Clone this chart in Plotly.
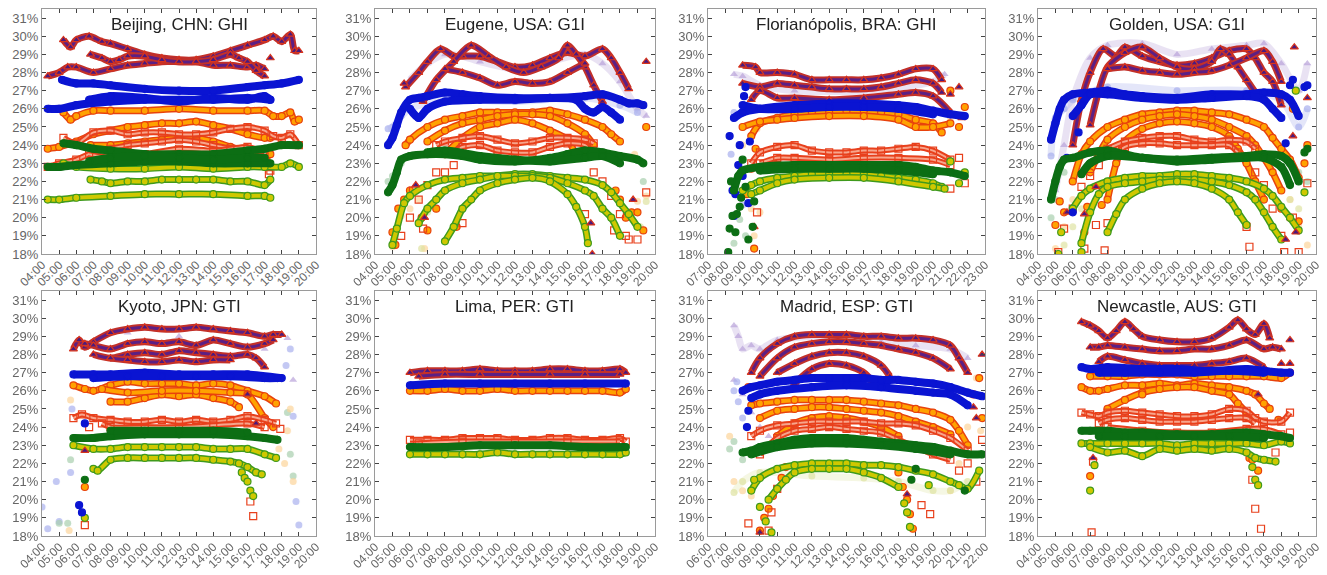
import plotly.graph_objects as go

DAY = "2000-01-01 "

TITLES = ["Beijing, CHN: GHI", "Eugene, USA: G1I", "Florianópolis, BRA: GHI", "Golden, USA: G1I",
          "Kyoto, JPN: GTI", "Lima, PER: GTI", "Madrid, ESP: GTI", "Newcastle, AUS: GTI"]
X_START = ["04:00", "04:00", "07:00", "04:00", "04:00", "04:00", "06:00", "04:00"]
X_END = ["20:00", "20:00", "23:00", "20:00", "20:00", "20:00", "22:00", "20:00"]
Y_TICKS = list(range(18, 32))

# each curve: "HH:MM value, HH:MM value, ..."  (values in %); a leading "*" = loose points only
BEI_TRI = [
    "05:15 29.8, 05:40 29.4, 06:00 29.8, 06:45 30.0, 07:30 29.7, 08:00 29.6, 09:00 29.3, 10:00 29.0, 11:00 28.8, 12:00 28.7, 13:00 28.7, 14:00 28.9, 15:00 29.2, 16:00 29.5, 17:00 29.8, 17:30 30.0, 18:00 29.7, 18:30 30.1, 18:45 29.2, 19:00 29.2",
    "04:20 27.8, 05:00 28.0, 05:30 28.3, 06:00 28.3, 07:00 28.0, 08:00 28.2, 09:00 28.4, 10:00 28.5, 11:00 28.6, 12:00 28.6, 13:00 28.6, 14:00 28.4, 15:00 28.4, 16:00 28.3, 16:30 28.4, 17:00 28.2",
    "06:50 29.0, 07:30 28.8, 08:00 28.6, 08:30 28.7, 09:00 28.9, 10:00 28.9, 11:00 28.7, 12:00 28.6, 13:00 28.6, 14:00 28.7, 15:00 29.0, 15:30 28.8, 16:00 28.6, 16:30 28.1, 17:00 27.8",
    "*17:20 28.8",
]
BEI_BLU = [
    "05:10 27.6, 06:00 27.4, 07:00 27.4, 08:00 27.3, 10:00 27.1, 12:00 27.0, 14:00 27.0, 16:00 27.2, 17:00 27.3, 18:00 27.4, 19:00 27.6",
    "04:20 26.0, 05:00 26.0, 06:00 26.2, 08:00 26.4, 10:00 26.5, 12:00 26.5, 14:00 26.5, 16:00 26.6, 17:20 26.5",
    "06:45 26.5, 08:00 26.7, 10:00 26.6, 12:00 26.4, 14:00 26.6, 16:00 26.5, 17:00 26.7, 17:20 26.5",
]
BEI_ORA = [
    "05:15 25.8, 05:40 25.4, 06:00 25.6, 07:00 25.9, 08:00 25.9, 10:00 25.9, 12:00 26.0, 14:00 25.9, 16:00 25.9, 17:00 25.9, 17:30 25.6, 18:00 25.6, 18:30 25.8, 18:45 25.3, 19:00 25.4",
    "04:20 23.8, 05:00 23.9, 06:00 24.2, 07:00 24.6, 08:00 24.8, 09:00 25.0, 10:00 25.1, 11:00 25.2, 12:00 25.2, 13:00 25.3, 14:00 25.1, 15:00 24.9, 16:00 24.6, 17:00 24.4, 17:20 24.4",
    "06:50 24.0, 08:00 24.0, 09:00 24.1, 10:00 24.2, 11:00 24.3, 12:00 24.4, 13:00 24.4, 14:00 24.2, 15:00 23.9, 16:00 23.6, 17:00 23.3, 17:20 23.5",
]
BEI_RED = [
    "05:15 24.4, 06:00 24.1, 07:00 24.7, 08:00 24.8, 09:00 24.6, 10:00 24.7, 11:00 24.7, 12:00 24.6, 13:00 24.6, 14:00 24.7, 15:00 24.9, 16:00 25.0, 17:00 24.8, 17:30 24.5, 18:00 24.4, 18:30 24.6, 19:00 24.0",
    "04:20 22.8, 05:00 23.0, 06:00 23.2, 07:00 23.6, 08:00 23.8, 09:00 24.0, 10:00 24.1, 11:00 24.2, 12:00 24.3, 13:00 24.2, 14:00 24.0, 15:00 23.8, 16:00 23.5, 17:00 23.2",
    "06:45 23.5, 08:00 23.3, 10:00 23.5, 12:00 23.8, 14:00 23.7, 15:00 23.8, 16:00 23.9, 17:00 23.6",
    "*17:15 22.4, 17:20 22.6",
]
BEI_GRN = [
    "05:15 24.1, 06:00 24.0, 07:00 23.8, 08:00 23.7, 10:00 23.5, 12:00 23.5, 14:00 23.5, 16:00 23.7, 17:00 23.8, 18:00 24.0, 19:00 24.0",
    "04:20 22.8, 05:00 22.8, 06:00 22.9, 08:00 23.0, 10:00 23.1, 12:00 23.1, 14:00 23.0, 16:00 23.0, 17:20 23.0",
    "06:45 23.1, 08:00 23.3, 10:00 23.4, 12:00 23.3, 14:00 23.2, 16:00 23.3, 17:00 23.3",
]
BEI_YEL = [
    "05:15 23.0, 06:00 22.8, 08:00 22.7, 10:00 22.7, 12:00 22.8, 14:00 22.7, 16:00 22.8, 17:00 22.8, 18:00 22.8, 18:30 23.0, 19:00 22.8",
    "06:50 22.1, 07:30 22.0, 08:00 21.9, 09:00 22.0, 10:00 22.0, 11:00 22.1, 12:00 22.1, 13:00 22.1, 14:00 22.1, 15:00 22.0, 16:00 22.0, 17:00 21.8, 17:20 22.1",
    "04:20 21.0, 05:00 21.0, 06:00 21.1, 08:00 21.2, 10:00 21.3, 12:00 21.3, 14:00 21.3, 16:00 21.2, 17:00 21.2, 17:20 21.1",
]
BEI_FAINT = []

EUG_TRI = [
    "05:45 27.2, 06:30 28.0, 07:00 28.6, 07:45 29.3, 08:30 28.9, 09:00 28.9, 10:00 28.9, 11:00 28.6, 12:00 28.3, 13:00 28.4, 14:00 28.8, 15:00 29.1, 16:00 28.9, 17:00 29.3, 17:30 28.8, 18:00 28.0, 18:30 27.1",
    "06:45 26.4, 07:30 27.6, 08:30 28.6, 09:30 29.5, 10:30 28.9, 11:30 28.3, 12:30 28.0, 13:30 28.3, 14:30 28.8, 15:00 29.5, 15:30 29.0, 16:00 28.3, 16:30 27.3, 17:00 26.4",
    "08:00 28.2, 09:00 28.0, 10:00 27.7, 11:00 27.3, 12:00 27.5, 13:00 27.4, 14:00 27.5, 15:00 28.0, 16:00 28.5",
    "*05:40 27.4, 06:20 21.8, 06:50 20.0, 16:20 19.7, 16:25 18.0, 18:45 21.0, 19:30 28.6",
]
EUG_BLU = [
    "04:45 24.0, 05:00 24.4, 05:15 25.1, 05:30 25.8, 06:00 26.5, 06:30 26.6, 07:00 26.7, 08:00 26.9, 09:00 26.8, 10:00 26.7, 12:00 26.6, 14:00 26.6, 16:00 26.7, 17:00 26.8, 18:00 26.5, 18:30 26.3, 19:00 26.3, 19:20 26.2",
    "06:00 26.0, 06:30 25.5, 07:00 26.0, 08:00 26.4, 10:00 26.5, 12:00 26.5, 14:00 26.6, 15:30 26.5, 16:00 26.0, 16:30 25.8, 17:00 26.1, 17:30 25.8, 18:00 25.4",
]
EUG_ORA = [
    "05:45 24.0, 06:00 24.3, 07:00 25.0, 08:00 25.4, 09:00 25.6, 10:00 25.8, 11:00 25.8, 12:00 25.8, 13:00 25.8, 14:00 25.9, 15:00 25.7, 16:00 25.4, 17:00 25.0, 17:30 24.6, 18:00 24.2",
    "07:00 24.2, 08:00 24.8, 09:00 25.2, 10:00 25.4, 11:00 25.6, 12:00 25.7, 13:00 25.7, 14:00 25.6, 15:00 25.2, 16:00 24.6, 16:30 24.0",
    "08:00 23.5, 09:00 24.4, 10:00 25.0, 11:00 25.2, 12:00 25.4, 13:00 25.2, 14:00 24.8, 15:00 24.3, 15:30 23.4",
    "*05:00 19.2, 05:10 18.5, 05:20 20.5, 05:40 21.0, 06:00 21.5, 06:40 20.0, 07:00 19.3, 07:30 20.5, 08:40 19.5",
    "*17:45 21.5, 18:00 21.0, 18:20 20.0, 18:40 20.3, 19:00 20.3, 19:20 19.3, 19:30 25.0",
]
EUG_RED = [
    "07:30 24.0, 08:00 24.2, 09:00 24.4, 10:00 24.5, 11:00 24.3, 12:00 24.1, 13:00 24.2, 14:00 24.4, 15:00 24.4, 16:00 24.3, 16:30 24.1",
    "08:30 23.6, 09:00 23.9, 10:00 24.0, 11:00 23.7, 12:00 23.6, 13:00 23.6, 14:00 23.9, 15:00 24.1, 16:00 24.0, 16:30 23.5",
    "*05:30 19.0, 06:00 20.0, 06:10 21.5, 06:30 21.0, 06:45 19.4, 07:00 21.8, 07:30 22.5, 08:00 22.5, 08:30 22.9, 09:00 19.7",
    "*16:00 20.2, 16:30 22.5, 17:00 22.0, 17:30 21.2, 17:40 19.3, 18:00 20.2, 18:20 19.0, 18:30 18.8, 19:00 18.8, 19:30 21.4",
]
EUG_GRN = [
    "04:45 21.4, 05:00 21.8, 05:15 22.5, 05:30 23.2, 06:00 23.4, 07:00 23.5, 08:00 23.5, 09:00 23.4, 10:00 23.2, 12:00 23.1, 14:00 23.3, 15:00 23.5, 16:00 23.7, 17:00 23.6, 18:00 23.4, 19:00 23.2, 19:20 23.0",
    "07:00 23.6, 08:00 23.7, 10:00 23.4, 12:00 23.2, 14:00 23.1, 16:00 23.3, 17:00 23.4, 18:00 23.0",
]
EUG_YEL = [
    "05:00 18.5, 05:15 19.4, 05:40 20.8, 06:00 21.2, 07:00 21.8, 08:00 22.1, 09:00 22.2, 10:00 22.3, 11:00 22.3, 12:00 22.4, 13:00 22.4, 14:00 22.3, 15:00 22.2, 16:00 22.1, 17:00 21.8, 17:30 21.4, 18:00 20.8, 18:30 20.2, 19:00 19.5",
    "06:30 19.7, 07:00 20.5, 07:30 21.0, 08:00 21.5, 09:00 21.9, 10:00 22.1, 11:00 22.3, 12:00 22.3, 13:00 22.3, 14:00 22.2, 15:00 21.9, 16:00 21.5, 16:30 21.2, 17:00 20.5, 17:30 20.0, 18:00 19.0",
    "08:00 18.7, 08:30 19.5, 09:00 20.5, 09:30 21.0, 10:00 21.5, 11:00 21.9, 12:00 22.1, 13:00 22.2, 14:00 22.0, 15:00 21.3, 15:30 20.6, 16:00 19.5, 16:10 18.6",
]
EUG_FAINT = [
    ("tri", "06:00 27.6, 07:00 28.5, 08:00 29.0, 09:00 28.9, 10:00 28.6, 12:00 28.2, 14:00 28.6, 16:00 29.0, 17:00 28.5, 18:00 27.5, 19:00 26.0, 19:30 25.6"),
    ("blu", "04:45 24.9, 05:00 25.0, 05:30 25.6, 06:00 26.0, 08:00 26.5, 12:00 26.4, 16:00 26.6, 18:00 26.2, 19:00 25.8"),
    ("ora", "*05:00 18.4, 05:30 20.1, 06:00 20.5, 06:30 21.0, 06:50 18.3, 19:00 20.9, 19:30 21.2, 18:50 23.5"),
    ("grn", "*04:45 22.0, 05:00 22.3, 05:30 23.0, 19:20 22.0"),
    ("yel", "*06:40 18.3, 07:00 20.3, 19:10 19.5, 19:30 20.9"),
]

FLO_TRI = [
    "09:00 28.4, 09:45 28.3, 10:00 28.0, 11:00 28.0, 12:00 27.9, 13:00 27.6, 14:00 27.6, 15:00 27.6, 16:00 27.6, 17:00 27.7, 18:00 27.9, 19:00 28.2, 20:00 28.2, 20:30 27.6",
    "09:00 27.4, 10:00 27.2, 11:00 27.4, 12:00 27.3, 13:00 27.2, 14:00 27.1, 15:00 27.1, 16:00 27.1, 17:00 27.2, 18:00 27.4, 19:00 27.6, 20:00 27.4, 20:30 26.9",
    "09:30 26.5, 10:00 27.0, 11:00 26.6, 12:00 26.6, 14:00 26.5, 16:00 26.6, 18:00 26.8, 19:00 26.9, 20:00 26.7, 21:00 25.8",
    "*21:00 26.8, 21:30 27.2, 21:40 25.5, 09:40 19.5",
]
FLO_BLU = [
    "08:30 25.5, 09:00 25.8, 10:00 26.0, 12:00 26.2, 14:00 26.3, 16:00 26.3, 18:00 26.2, 19:00 26.1, 20:00 25.9, 21:00 25.7, 21:50 25.6",
    "09:00 26.2, 10:00 26.0, 12:00 26.0, 14:00 26.1, 16:00 26.1, 18:00 26.0, 20:00 25.7",
    "*08:15 24.5, 08:25 21.5, 08:30 20.1, 08:35 21.3, 08:45 22.9, 08:50 24.0, 09:00 22.3, 09:05 26.7, 09:10 27.2, 09:20 20.8, 09:25 24.2",
]
FLO_ORA = [
    "09:30 24.5, 10:00 25.2, 11:00 25.5, 12:00 25.7, 13:00 25.8, 14:00 25.8, 15:00 25.9, 16:00 25.9, 17:00 25.8, 18:00 25.7, 19:00 25.4, 20:00 25.2, 20:30 24.7",
    "09:00 25.0, 10:00 25.3, 11:00 25.4, 12:00 25.5, 14:00 25.6, 16:00 25.6, 18:00 25.4, 19:00 25.0, 20:00 25.0, 21:00 25.2",
    "*09:15 21.3, 09:30 22.7, 09:45 23.8, 09:40 18.3, 21:30 25.0, 21:50 26.1, 21:00 27.0",
]
FLO_RED = [
    "09:30 23.0, 10:00 23.6, 11:00 23.9, 12:00 24.0, 13:00 23.7, 14:00 23.6, 15:00 23.6, 16:00 23.7, 17:00 23.7, 18:00 23.8, 19:00 23.9, 20:00 23.7, 21:00 23.2",
    "10:00 23.0, 11:00 23.3, 12:00 23.3, 14:00 23.2, 16:00 23.3, 18:00 23.3, 20:00 23.2, 21:00 22.9",
    "*21:00 21.6, 21:30 23.3, 21:50 21.9, 09:50 20.3",
]
FLO_GRN = [
    "08:30 21.5, 08:45 22.3, 09:00 22.6, 10:00 22.8, 12:00 22.9, 14:00 22.9, 16:00 22.9, 18:00 22.9, 19:00 22.8, 20:00 22.6, 21:00 22.5, 21:50 22.3",
    "10:00 22.6, 12:00 22.7, 14:00 22.7, 16:00 22.7, 18:00 22.6, 20:00 22.4",
    "*08:10 18.1, 08:15 19.4, 08:20 22.0, 08:25 20.1, 08:35 19.2, 08:40 20.2, 08:50 20.6, 08:55 21.1, 09:00 23.2, 09:10 21.7, 09:20 18.8, 09:35 19.5, 09:40 20.9",
]
FLO_YEL = [
    "09:00 21.5, 09:30 21.8, 10:00 22.0, 11:00 22.2, 12:00 22.3, 13:00 22.4, 14:00 22.4, 15:00 22.4, 16:00 22.4, 17:00 22.3, 18:00 22.2, 19:00 22.1, 20:00 21.9, 20:30 21.7",
    "09:30 21.3, 10:00 21.5, 11:00 21.9, 12:00 22.1, 14:00 22.2, 16:00 22.2, 18:00 22.0, 20:00 21.7, 20:40 21.6",
    "*21:00 23.1, 21:30 21.9, 21:50 22.5",
]
FLO_FAINT = [
    ("tri", "08:30 27.9, 09:00 27.8, 10:00 27.3, 12:00 27.0, 16:00 27.0, 20:00 27.5, 20:40 27.9"),
    ("blu", "*08:20 23.5, 08:40 25.6, 09:00 20.7, 09:20 18.8, 08:30 25.8"),
    ("ora", "*09:00 24.0, 09:30 20.5, 10:00 20.3, 09:40 19.0, 09:50 24.9, 21:00 25.5"),
    ("grn", "*08:30 18.6, 08:50 19.9, 09:10 19.0"),
]

GOL_TRI = [
    "06:00 24.0, 06:30 26.5, 07:00 28.0, 07:45 29.3, 08:30 28.9, 09:00 29.4, 10:00 28.9, 11:00 28.6, 12:00 28.4, 13:00 28.5, 14:00 28.8, 15:00 29.2, 16:00 29.3, 16:30 28.8, 17:00 28.0, 17:30 27.5, 18:00 26.2",
    "07:00 25.1, 07:30 27.0, 08:00 28.3, 09:00 29.1, 10:00 29.4, 11:00 28.8, 12:00 28.3, 13:00 28.2, 14:00 28.6, 14:30 29.3, 15:00 29.0, 15:30 28.3, 16:00 27.6, 16:30 26.9",
    "08:00 28.2, 09:00 28.3, 10:00 28.1, 11:00 28.0, 12:00 27.9, 13:00 28.0, 14:00 28.1, 15:00 28.4, 16:00 28.8, 17:00 29.2, 17:30 28.6, 18:00 27.5",
    "*05:40 20.3, 06:40 20.2, 07:20 21.7, 18:45 29.4, 18:40 24.5, 18:50 19.2, 19:30 26.6, 18:15 18.8",
]
GOL_BLU = [
    "04:45 24.3, 05:00 25.2, 05:15 26.0, 05:30 26.5, 06:00 26.8, 07:00 26.9, 08:00 27.0, 09:00 26.8, 10:00 26.7, 12:00 26.6, 14:00 26.8, 16:00 26.8, 17:00 26.9, 18:00 26.8, 18:30 26.5, 19:00 25.6",
    "06:00 25.6, 06:30 26.2, 07:00 26.8, 08:00 26.8, 10:00 26.6, 12:00 26.5, 14:00 26.6, 16:00 26.7, 17:00 26.5, 17:30 26.0, 18:00 25.5",
    "*06:00 20.3, 06:20 24.7, 05:40 23.3, 18:40 27.6, 18:30 27.3, 18:15 24.1, 19:20 27.2, 19:30 27.3",
]
GOL_ORA = [
    "06:00 22.0, 06:30 23.5, 07:00 24.2, 08:00 25.0, 09:00 25.4, 10:00 25.7, 11:00 25.8, 12:00 25.9, 13:00 25.9, 14:00 25.8, 15:00 25.7, 16:00 25.4, 17:00 25.0, 17:30 24.4, 18:00 23.8, 18:30 23.2, 19:00 22.2",
    "07:00 22.5, 07:30 23.5, 08:00 24.3, 09:00 25.0, 10:00 25.4, 11:00 25.6, 12:00 25.7, 13:00 25.6, 14:00 25.4, 15:00 25.0, 16:00 24.5, 16:30 24.0, 17:00 23.3, 17:30 22.5, 18:00 21.5",
    "08:00 21.0, 08:30 23.0, 09:00 24.2, 10:00 24.9, 11:00 25.2, 12:00 25.3, 13:00 25.2, 14:00 25.0, 15:00 24.5, 15:30 23.8, 16:00 23.0, 16:30 22.0, 17:00 21.0",
    "*05:00 19.6, 05:15 20.9, 05:30 20.3, 06:40 19.2, 06:50 20.6, 07:40 20.7, 18:00 20.5, 18:30 20.0, 19:00 19.8, 19:30 24.0, 19:20 23.0, 18:40 26.0",
]
GOL_RED = [
    "08:00 23.8, 09:00 24.2, 10:00 24.4, 11:00 24.5, 12:00 24.5, 13:00 24.3, 14:00 24.2, 15:00 24.3, 16:00 24.2, 16:30 23.8",
    "08:30 23.5, 09:00 23.9, 10:00 24.1, 11:00 24.1, 12:00 24.0, 13:00 24.0, 14:00 24.0, 15:00 24.0, 15:30 23.6",
    "*05:30 19.4, 05:10 18.1, 06:00 20.5, 06:30 21.7, 06:40 18.3, 07:00 22.3, 07:30 22.9, 07:20 19.6, 07:50 18.2, 08:00 19.7",
    "*16:00 19.5, 16:10 18.4, 16:30 22.5, 17:00 21.8, 17:30 20.5, 18:00 19.0, 18:10 18.1, 19:00 18.1, 19:30 21.9, 18:40 20.0",
]
GOL_GRN = [
    "04:45 21.0, 05:00 22.0, 05:15 22.8, 05:30 23.2, 06:00 23.3, 07:00 23.6, 08:00 23.7, 09:00 23.5, 10:00 23.3, 12:00 23.2, 14:00 23.3, 16:00 23.4, 17:00 23.5, 18:00 23.4, 18:30 23.0, 19:00 22.0",
    "06:30 22.4, 07:00 23.0, 08:00 23.4, 10:00 23.3, 12:00 23.1, 14:00 23.2, 16:00 23.3, 17:00 23.3, 18:00 22.8, 18:30 21.8",
    "*19:20 23.6, 19:30 23.8",
]
GOL_YEL = [
    "06:00 20.5, 06:30 21.2, 07:00 21.6, 08:00 22.0, 09:00 22.2, 10:00 22.3, 11:00 22.3, 12:00 22.4, 13:00 22.4, 14:00 22.3, 15:00 22.2, 16:00 22.0, 17:00 21.6, 17:30 21.2, 18:00 20.6, 18:30 20.0, 19:00 19.3",
    "06:30 18.6, 07:00 20.3, 07:30 21.3, 08:00 21.7, 09:00 21.9, 10:00 22.0, 11:00 22.1, 12:00 22.1, 13:00 22.1, 14:00 22.0, 15:00 21.8, 16:00 21.4, 16:30 21.0, 17:00 20.3, 17:30 19.5, 18:00 18.8",
    "08:00 19.2, 08:30 20.2, 09:00 21.0, 10:00 21.6, 11:00 21.9, 12:00 22.0, 13:00 21.9, 14:00 21.6, 15:00 21.0, 15:30 20.3, 16:00 19.6",
    "*05:10 18.0, 05:20 19.2, 06:30 18.1, 18:50 27.0, 19:20 21.4",
]
GOL_FAINT = [
    ("tri", "05:00 21.5, 05:30 24.0, 06:00 26.5, 07:00 28.8, 08:00 29.5, 10:00 29.6, 12:00 29.0, 14:00 29.3, 16:00 29.5, 17:00 29.6, 18:00 28.5, 19:00 27.0, 19:30 28.5"),
    ("blu", "04:45 23.4, 05:00 25.5, 05:30 26.0, 06:00 26.5, 08:00 27.2, 12:00 27.0, 16:00 27.0, 18:00 26.5, 19:00 25.0, 19:30 26.0"),
    ("ora", "*05:00 18.3, 05:30 19.5, 06:00 21.0, 18:30 21.0, 19:00 19.5, 19:30 18.5"),
    ("grn", "*04:45 20.0, 05:00 21.0, 05:30 22.5, 19:00 22.5, 19:30 22.0"),
    ("yel", "*05:30 18.5, 06:00 19.5, 06:30 20.5, 18:00 21.5, 18:30 21.0, 19:00 20.5"),
]

KYO_TRI = [
    "05:50 28.3, 06:10 28.8, 06:30 28.4, 07:00 28.7, 08:00 29.2, 09:00 29.4, 10:00 29.5, 11:00 29.4, 12:00 29.4, 13:00 29.5, 14:00 29.4, 15:00 29.3, 16:00 29.2, 17:00 29.0, 17:30 29.1, 18:00 29.1",
    "06:30 28.6, 07:00 28.5, 08:00 28.3, 09:00 28.6, 10:00 28.7, 11:00 28.6, 12:00 28.7, 13:00 28.5, 14:00 28.8, 15:00 28.6, 16:00 28.4, 17:00 28.6, 17:30 28.8",
    "07:00 28.0, 08:00 27.8, 09:00 28.0, 10:00 28.1, 11:00 28.0, 12:00 28.2, 13:00 28.1, 14:00 28.0, 15:00 27.9, 16:00 28.0, 16:30 27.8, 17:00 27.3",
    "08:00 27.8, 09:00 27.7, 10:00 27.6, 11:00 27.6, 12:00 27.7, 13:00 27.6, 14:00 27.7, 15:00 27.7",
    "*16:00 25.8, 16:30 24.2, 06:30 22.7",
]
KYO_BLU = [
    "05:50 26.9, 07:00 26.9, 08:00 26.9, 10:00 27.0, 12:00 26.9, 14:00 26.9, 16:00 26.9, 18:00 26.7",
    "07:00 26.7, 09:00 26.8, 11:00 26.8, 13:00 26.8, 15:00 26.8, 17:00 26.7, 17:45 26.7",
    "*06:10 19.7, 06:20 19.3, 06:30 24.2",
]
KYO_ORA = [
    "05:50 26.3, 06:30 26.1, 07:00 26.0, 08:00 26.3, 09:00 26.5, 10:00 26.4, 11:00 26.4, 12:00 26.4, 13:00 26.3, 14:00 26.4, 15:00 26.3, 16:00 26.0, 17:00 25.7, 17:40 25.3",
    "08:00 25.4, 09:00 25.4, 10:00 25.6, 11:00 25.8, 12:00 25.7, 13:00 25.8, 14:00 25.6, 15:00 25.4, 15:30 25.1",
    "07:30 26.1, 09:00 25.9, 11:00 26.0, 13:00 26.0, 15:00 25.9, 16:00 25.8, 17:00 24.5, 17:30 24.0",
    "*06:30 20.7",
]
KYO_RED = [
    "05:50 24.5, 06:20 24.7, 07:00 24.5, 08:00 24.4, 09:00 24.3, 10:00 24.3, 11:00 24.4, 12:00 24.3, 13:00 24.4, 14:00 24.3, 15:00 24.4, 16:00 24.6, 17:00 24.4, 17:40 24.2",
    "07:30 24.2, 08:00 24.0, 10:00 24.0, 12:00 24.0, 14:00 24.1, 16:00 24.2, 17:00 24.0",
    "*16:10 19.9, 16:20 19.1, 06:30 18.6, 06:45 24.0, 17:55 23.9",
]
KYO_GRN = [
    "05:50 23.4, 07:00 23.4, 08:00 23.5, 10:00 23.6, 12:00 23.6, 14:00 23.6, 16:00 23.5, 17:00 23.4, 17:45 23.3",
    "08:00 23.8, 10:00 23.8, 12:00 23.8, 14:00 23.8, 16:00 23.7",
    "*06:30 21.1",
]
KYO_YEL = [
    "05:50 23.0, 07:00 22.8, 08:00 22.8, 09:00 22.9, 10:00 22.9, 11:00 22.9, 12:00 22.9, 13:00 22.9, 14:00 22.8, 15:00 22.8, 16:00 22.8, 17:00 22.5, 17:40 22.3",
    "07:00 21.7, 07:15 21.6, 08:00 22.2, 09:00 22.3, 10:00 22.3, 11:00 22.3, 12:00 22.3, 13:00 22.3, 14:00 22.2, 15:00 22.1, 15:30 22.0, 16:00 21.8, 16:30 21.5, 16:50 21.4",
    "*15:40 21.5, 15:50 21.2, 16:00 21.0, 16:10 20.5, 16:20 20.2, 06:30 19.0",
]
KYO_FAINT = [
    ("blu", "*04:00 19.6, 04:20 18.4, 04:50 21.0, 05:00 18.8, 05:40 21.5, 05:45 25.0, 18:15 27.4, 18:30 28.3, 18:40 24.6, 18:50 19.9, 19:00 18.6"),
    ("grn", "*05:00 18.7, 05:30 18.7, 05:40 22.2, 18:40 21.3, 18:30 22.5, 18:20 24.8"),
    ("ora", "*05:40 25.5, 05:35 18.3, 18:30 25.0, 18:40 21.0, 18:20 23.8, 17:50 22.8, 18:10 22.0"),
    ("tri", "*18:20 28.9, 18:40 26.6, 17:00 28.3, 09:00 29.2, 12:00 29.0, 16:00 28.5"),
]

LIM_TRI = [
    "06:00 27.0, 07:00 27.1, 08:00 27.1, 09:00 27.1, 10:00 27.2, 11:00 27.1, 12:00 27.1, 13:00 27.1, 14:00 27.2, 15:00 27.2, 16:00 27.1, 17:00 27.1, 18:00 27.2, 18:20 27.0",
    "06:30 26.8, 08:00 26.9, 10:00 26.9, 12:00 26.9, 14:00 26.9, 16:00 26.9, 18:00 26.9",
]
LIM_BLU = [
    "06:00 26.3, 08:00 26.4, 10:00 26.4, 12:00 26.4, 14:00 26.4, 16:00 26.4, 18:20 26.4",
]
LIM_ORA = [
    "06:00 26.0, 07:00 26.0, 08:00 26.1, 09:00 26.0, 10:00 26.0, 11:00 26.1, 12:00 26.0, 13:00 26.0, 14:00 26.0, 15:00 26.0, 16:00 26.0, 17:00 26.0, 18:00 25.9, 18:20 26.1",
]
LIM_RED = [
    "06:00 23.3, 07:00 23.3, 08:00 23.3, 09:00 23.4, 10:00 23.4, 11:00 23.4, 12:00 23.3, 13:00 23.3, 14:00 23.4, 15:00 23.4, 16:00 23.3, 17:00 23.3, 18:00 23.4, 18:20 23.2",
    "06:30 23.1, 09:00 23.2, 12:00 23.2, 15:00 23.2, 18:00 23.2",
]
LIM_GRN = [
    "06:00 22.9, 08:00 22.9, 10:00 23.0, 12:00 23.0, 14:00 23.0, 16:00 22.9, 18:20 22.9",
]
LIM_YEL = [
    "06:00 22.5, 07:00 22.5, 08:00 22.5, 09:00 22.5, 10:00 22.5, 11:00 22.6, 12:00 22.5, 13:00 22.5, 14:00 22.5, 15:00 22.5, 16:00 22.5, 17:00 22.5, 18:00 22.5, 18:20 22.6",
]
LIM_FAINT = []

MAD_TRI = [
    "08:30 27.0, 09:00 27.8, 10:00 28.6, 11:00 29.0, 12:00 29.1, 13:00 29.1, 14:00 29.1, 15:00 29.0, 16:00 29.0, 17:00 28.9, 18:00 28.9, 19:00 28.8, 20:00 28.5, 20:30 27.8, 21:00 27.0",
    "09:00 26.8, 10:00 27.8, 11:00 28.4, 12:00 28.6, 13:00 28.7, 14:00 28.7, 15:00 28.6, 16:00 28.5, 17:00 28.3, 18:00 28.1, 19:00 27.8, 20:00 27.2",
    "10:00 27.0, 11:00 27.5, 12:00 27.9, 13:00 28.1, 14:00 28.1, 15:00 27.9, 16:00 27.4, 16:30 26.8",
    "11:00 26.4, 12:00 27.2, 13:00 27.5, 14:00 27.4, 15:00 27.0, 15:30 26.5",
    "*21:50 28.0, 21:30 24.5, 21:20 25.1, 09:00 18.2, 17:30 20.3",
]
MAD_BLU = [
    "08:00 26.0, 08:30 26.2, 09:00 26.3, 10:00 26.5, 11:00 26.6, 12:00 26.7, 13:00 26.7, 14:00 26.7, 15:00 26.7, 16:00 26.6, 17:00 26.6, 18:00 26.5, 19:00 26.4, 20:00 26.2, 21:00 25.9, 21:50 25.7",
    "08:30 25.6, 09:00 25.8, 10:00 26.0, 12:00 26.2, 14:00 26.3, 16:00 26.2, 18:00 26.0, 19:00 25.9, 20:00 25.8, 21:00 25.2",
    "*08:20 24.9, 08:15 24.0",
]
MAD_ORA = [
    "08:30 25.2, 09:00 25.3, 10:00 25.4, 11:00 25.5, 12:00 25.5, 13:00 25.5, 14:00 25.5, 15:00 25.4, 16:00 25.3, 17:00 25.2, 18:00 25.0, 19:00 24.8, 20:00 24.4, 20:30 23.8, 21:00 23.0",
    "09:00 24.5, 10:00 24.9, 11:00 25.0, 12:00 25.1, 13:00 25.1, 14:00 25.0, 15:00 24.9, 16:00 24.8, 17:00 24.6, 18:00 24.3, 19:00 24.0, 20:00 23.6",
    "10:00 23.5, 11:00 24.2, 12:00 24.5, 13:00 24.6, 14:00 24.5, 15:00 24.3, 16:00 24.0, 17:00 23.5",
    "*09:00 18.3, 09:15 19.0, 09:30 19.5, 09:45 20.2, 10:00 20.6, 10:15 21.2, 10:30 21.8, 17:00 21.5, 17:15 20.7, 17:30 20.0, 17:40 19.2, 17:50 18.4, 21:40 26.7, 21:50 24.5, 21:20 25.8, 08:20 26.2",
]
MAD_RED = [
    "08:30 23.5, 09:00 23.8, 10:00 24.1, 11:00 24.2, 12:00 24.3, 13:00 24.3, 14:00 24.3, 15:00 24.3, 16:00 24.2, 17:00 24.2, 18:00 24.1, 19:00 23.8, 20:00 23.4, 21:00 22.7",
    "09:00 22.5, 10:00 23.4, 11:00 23.8, 12:00 23.9, 13:00 24.0, 14:00 23.9, 15:00 23.8, 16:00 23.7, 17:00 23.3, 18:00 22.9, 19:00 22.5, 20:00 22.2",
    "*08:20 18.7, 09:30 18.3, 09:40 19.3, 10:00 20.6, 18:20 19.7, 18:50 19.2, 21:30 21.0, 21:50 23.3, 20:30 21.6, 21:00 22.0",
]
MAD_GRN = [
    "08:00 22.6, 08:30 22.7, 09:00 22.9, 10:00 23.1, 11:00 23.3, 12:00 23.4, 13:00 23.4, 14:00 23.4, 15:00 23.3, 16:00 23.2, 17:00 23.1, 18:00 23.0, 19:00 22.9, 20:00 22.7, 21:00 22.5, 21:50 22.5",
    "08:30 22.5, 10:00 22.9, 12:00 23.1, 14:00 23.1, 16:00 23.0, 18:00 22.8, 20:00 22.5",
    "*17:45 21.1, 18:00 21.7, 20:50 20.5",
]
MAD_YEL = [
    "08:30 20.5, 09:00 21.2, 10:00 21.7, 11:00 21.9, 12:00 22.0, 13:00 22.0, 14:00 22.0, 15:00 21.9, 16:00 21.9, 17:00 21.8, 18:00 21.6, 19:00 21.4, 20:00 21.0, 20:30 20.8, 21:00 20.6, 21:40 21.6",
    "09:30 20.0, 10:00 20.6, 10:30 21.1, 11:00 21.5, 12:00 21.7, 13:00 21.7, 14:00 21.7, 15:00 21.5, 16:00 21.2, 17:00 20.7",
    "*17:20 19.8, 17:30 19.3, 17:40 18.5, 09:00 19.6, 09:20 18.8, 09:40 18.2, 08:40 21.1, 18:45 20.8",
]
MAD_FAINT = [
    ("tri", "07:30 29.6, 07:45 29.0, 08:00 28.3, 08:30 28.5, 09:00 28.3, 10:00 28.8, 12:00 29.0, 14:00 29.0, 16:00 28.7, 18:00 28.5, 20:00 28.3, 21:00 27.8"),
    ("tri", "*07:30 26.6, 08:00 25.8, 08:30 24.8, 09:00 24.0, 09:30 23.5"),
    ("blu", "*07:30 26.0, 07:45 25.4, 08:00 24.5, 07:40 26.5"),
    ("ora", "*07:15 23.5, 07:30 21.0, 08:00 20.5, 08:30 20.2, 20:00 20.5, 20:30 22.0, 21:00 24.0, 21:30 26.7, 21:45 23.8"),
    ("grn", "*07:15 22.8, 07:30 23.2, 08:00 22.2"),
    ("yel", "07:30 20.4, 08:00 21.0, 09:00 21.5, 12:00 21.3, 15:00 21.2, 17:00 21.0, 19:00 20.5, 20:00 20.5, 21:00 21.0"),
]

NEW_TRI = [
    "06:30 29.8, 07:00 29.6, 07:30 29.3, 08:00 28.9, 08:30 29.3, 09:00 29.8, 09:30 29.4, 10:00 29.0, 11:00 28.8, 12:00 28.7, 13:00 28.7, 14:00 28.9, 15:00 29.5, 15:30 29.9, 16:00 29.4, 16:30 29.1, 17:00 29.7, 17:20 28.9",
    "07:00 28.4, 07:30 28.4, 08:00 28.5, 09:00 28.4, 10:00 28.3, 11:00 28.2, 12:00 28.2, 13:00 28.3, 14:00 28.3, 15:00 28.5, 16:00 28.8, 17:00 28.3, 17:30 28.4, 18:00 28.3",
    "07:30 27.6, 08:00 27.9, 09:00 27.7, 10:00 27.5, 11:00 27.4, 12:00 27.4, 13:00 27.4, 14:00 27.5, 15:00 27.6, 16:00 27.8, 17:00 27.3",
    "*07:10 22.3, 18:30 28.8, 18:00 27.5, 18:30 27.5, 16:40 25.8",
]
NEW_BLU = [
    "06:30 27.3, 07:00 27.2, 08:00 27.3, 10:00 27.2, 12:00 27.2, 14:00 27.1, 16:00 27.2, 17:00 27.1, 18:00 27.0, 18:30 27.0",
    "07:30 27.0, 09:00 27.0, 11:00 27.0, 13:00 27.0, 15:00 27.1, 17:00 27.0",
]
NEW_ORA = [
    "06:30 26.2, 07:00 26.0, 07:30 26.0, 08:00 26.1, 09:00 26.3, 10:00 26.3, 11:00 26.4, 12:00 26.3, 13:00 26.4, 14:00 26.3, 15:00 26.2, 16:00 26.0, 16:30 25.8, 17:00 25.3, 17:20 25.0",
    "07:00 26.8, 08:00 26.8, 09:00 26.8, 10:00 26.9, 11:00 26.9, 12:00 26.9, 13:00 26.8, 14:00 26.8, 15:00 26.8, 16:00 26.8, 17:00 26.8, 18:00 26.7, 18:30 27.0",
    "08:00 25.0, 09:00 25.5, 10:00 25.9, 11:00 26.1, 12:00 26.2, 13:00 26.2, 14:00 26.0, 15:00 25.8, 15:30 25.3, 16:00 24.8",
    "*07:00 21.3, 16:10 22.3, 16:20 22.2, 16:40 21.6, 10:00 25.8, 17:50 24.4",
]
NEW_RED = [
    "06:30 24.8, 07:00 24.7, 07:30 24.6, 08:00 24.8, 09:00 24.9, 10:00 24.8, 11:00 24.7, 12:00 24.6, 13:00 24.6, 14:00 24.7, 15:00 25.0, 16:00 24.9, 16:30 24.5, 17:00 24.3, 18:00 24.3, 18:30 24.8",
    "07:30 24.2, 08:00 24.4, 09:00 24.5, 10:00 24.4, 11:00 24.3, 12:00 24.3, 13:00 24.3, 14:00 24.4, 15:00 24.5, 16:00 24.5, 16:30 24.2",
    "08:00 24.0, 10:00 23.8, 12:00 23.7, 14:00 23.7, 16:00 23.9, 17:00 23.9, 18:00 23.6",
    "*07:05 18.2, 07:10 22.1, 16:30 19.5, 16:50 18.4, 18:30 23.7, 17:40 22.6, 16:20 21.1",
]
NEW_GRN = [
    "06:30 23.8, 07:00 23.8, 08:00 23.8, 09:00 23.7, 10:00 23.7, 12:00 23.6, 14:00 23.6, 16:00 23.7, 17:00 23.6, 18:00 23.5, 18:30 23.4",
    "07:30 23.5, 09:00 23.5, 11:00 23.5, 13:00 23.5, 15:00 23.5, 17:00 23.4",
]
NEW_YEL = [
    "06:30 23.1, 07:00 23.1, 08:00 23.1, 09:00 23.1, 10:00 23.1, 11:00 23.1, 12:00 23.0, 13:00 23.1, 14:00 23.1, 15:00 23.1, 16:00 23.1, 17:00 23.0, 18:00 23.2, 18:30 23.1",
    "07:00 22.9, 08:00 22.6, 09:00 22.7, 10:00 22.4, 11:00 22.8, 12:00 22.7, 13:00 22.8, 14:00 22.7, 15:00 22.8, 16:00 22.6, 16:30 22.3, 17:00 22.2, 17:40 22.1",
    "*07:00 20.5, 07:15 21.9, 16:20 21.8, 16:30 21.1, 16:40 20.8",
]
NEW_FAINT = []

PANELS = [
    (dict(ora=BEI_ORA, red=BEI_RED, yel=BEI_YEL, tri=BEI_TRI, blu=BEI_BLU, grn=BEI_GRN), BEI_FAINT),
    (dict(ora=EUG_ORA, red=EUG_RED, yel=EUG_YEL, tri=EUG_TRI, blu=EUG_BLU, grn=EUG_GRN), EUG_FAINT),
    (dict(ora=FLO_ORA, red=FLO_RED, yel=FLO_YEL, tri=FLO_TRI, blu=FLO_BLU, grn=FLO_GRN), FLO_FAINT),
    (dict(ora=GOL_ORA, red=GOL_RED, yel=GOL_YEL, tri=GOL_TRI, blu=GOL_BLU, grn=GOL_GRN), GOL_FAINT),
    (dict(ora=KYO_ORA, red=KYO_RED, yel=KYO_YEL, tri=KYO_TRI, blu=KYO_BLU, grn=KYO_GRN), KYO_FAINT),
    (dict(ora=LIM_ORA, red=LIM_RED, yel=LIM_YEL, tri=LIM_TRI, blu=LIM_BLU, grn=LIM_GRN), LIM_FAINT),
    (dict(ora=MAD_ORA, red=MAD_RED, yel=MAD_YEL, tri=MAD_TRI, blu=MAD_BLU, grn=MAD_GRN), MAD_FAINT),
    (dict(ora=NEW_ORA, red=NEW_RED, yel=NEW_YEL, tri=NEW_TRI, blu=NEW_BLU, grn=NEW_GRN), NEW_FAINT),
]

# symbol, marker fill, marker edge, band outer (colour, width), band inner (colour, width)
STYLES = {
    "tri": ("triangle-up", "#4a1a7e", "#d8341c", ("#c2302a", 7), ("#5c1f84", 3)),
    "blu": ("circle", "#0a14d2", "#0a14d2", ("#0a14d2", 8), None),
    "ora": ("circle", "#ffa200", "#e8420c", ("#e8420c", 7), ("#ffa200", 4)),
    "red": ("square-open", "#e8401c", "#e8401c", ("#e8401c", 6), ("#f7a58c", 2)),
    "grn": ("circle", "#0c6e14", "#0c6e14", ("#0c6e14", 8), None),
    "yel": ("circle", "#cfc800", "#3f9a1c", ("#3f9a1c", 7), ("#cfc800", 4)),
}
FAINT_COLOR = {"tri": "#b9a3da", "blu": "#a9b0ee", "ora": "#fcd49a", "red": "#f5b7a8",
               "grn": "#a8cfae", "yel": "#dfe3a2"}


def parse(curve):
    xs, ys = [], []
    for pair in curve.lstrip("*").split(","):
        t, v = pair.split()
        xs.append(DAY + t)
        ys.append(float(v))
    return xs, ys


# page body has an 8px margin, so the figure is 8px smaller than the window
W, H = 1319, 567
COL_X = [(0.0258, 0.2335), (0.2782, 0.4905), (0.5307, 0.7407), (0.7809, 0.9917)]
ROW_Y = [(0.5661, 0.9982), (0.0688, 0.5009)]

fig = go.Figure()
layout = {}
for i in range(8):
    n = i + 1
    sfx = "" if n == 1 else str(n)
    ax = dict(xaxis="x" + sfx, yaxis="y" + sfx, showlegend=False, hoverinfo="skip")
    series, faint = PANELS[i]

    for key, c in faint:
        sym = STYLES[key][0]
        xs, ys = parse(c)
        col = FAINT_COLOR[key]
        if not c.startswith("*"):
            fig.add_trace(go.Scatter(x=xs, y=ys, mode="lines", opacity=0.3,
                                     line=dict(color=col, width=7, shape="spline", smoothing=0.8), **ax))
        fig.add_trace(go.Scatter(x=xs, y=ys, mode="markers", opacity=0.7,
                                 marker=dict(symbol=sym if sym != "square-open" else "square", size=7, color=col),
                                 **ax))

    for key, curves in series.items():
        sym, fill, edge, outer, inner = STYLES[key]
        for c in curves:
            xs, ys = parse(c)
            if not c.startswith("*"):
                fig.add_trace(go.Scatter(x=xs, y=ys, mode="lines",
                                         line=dict(color=outer[0], width=outer[1], shape="spline", smoothing=0.8),
                                         **ax))
                if inner:
                    fig.add_trace(go.Scatter(x=xs, y=ys, mode="lines",
                                             line=dict(color=inner[0], width=inner[1], shape="spline", smoothing=0.8),
                                             **ax))
            fig.add_trace(go.Scatter(
                x=xs, y=ys, mode="markers",
                marker=dict(symbol=sym, size=7, color=fill, line=dict(color=edge, width=1.2)), **ax))

    r, c = divmod(i, 4)
    layout["xaxis" + sfx] = dict(
        domain=COL_X[c], anchor="y" + sfx, type="date", automargin=False,
        range=[DAY + X_START[i], DAY + X_END[i]], dtick=3600000, tickformat="%H:%M",
        tickangle=-45, ticks="inside", ticklen=4, tickcolor="#444", ticklabelstandoff=-2,
        showline=True, linecolor="#9a9a9a", linewidth=1.2, mirror="ticks",
        showgrid=False, zeroline=False, tickfont=dict(size=12, color="#666"))
    layout["yaxis" + sfx] = dict(
        domain=ROW_Y[r], anchor="x" + sfx, range=[18, 31.5], automargin=False,
        tickvals=Y_TICKS, ticktext=[f"{v}%" for v in Y_TICKS],
        ticks="inside", ticklen=4, tickcolor="#444",
        showline=True, linecolor="#9a9a9a", linewidth=1.2, mirror="ticks",
        showgrid=False, zeroline=False, tickfont=dict(size=13, color="#666"))
    fig.add_annotation(text=TITLES[i], xref="x" + sfx + " domain", yref="y" + sfx + " domain",
                       x=0.5, y=0.985, xanchor="center", yanchor="top", showarrow=False,
                       font=dict(size=17, color="#222"))

fig.update_layout(
    width=W, height=H, margin=dict(l=0, r=0, t=0, b=0, autoexpand=False),
    paper_bgcolor="white", plot_bgcolor="white",
    font=dict(family="Liberation Sans, Arial, sans-serif"),
    **layout)

fig.write_html("out.html")
